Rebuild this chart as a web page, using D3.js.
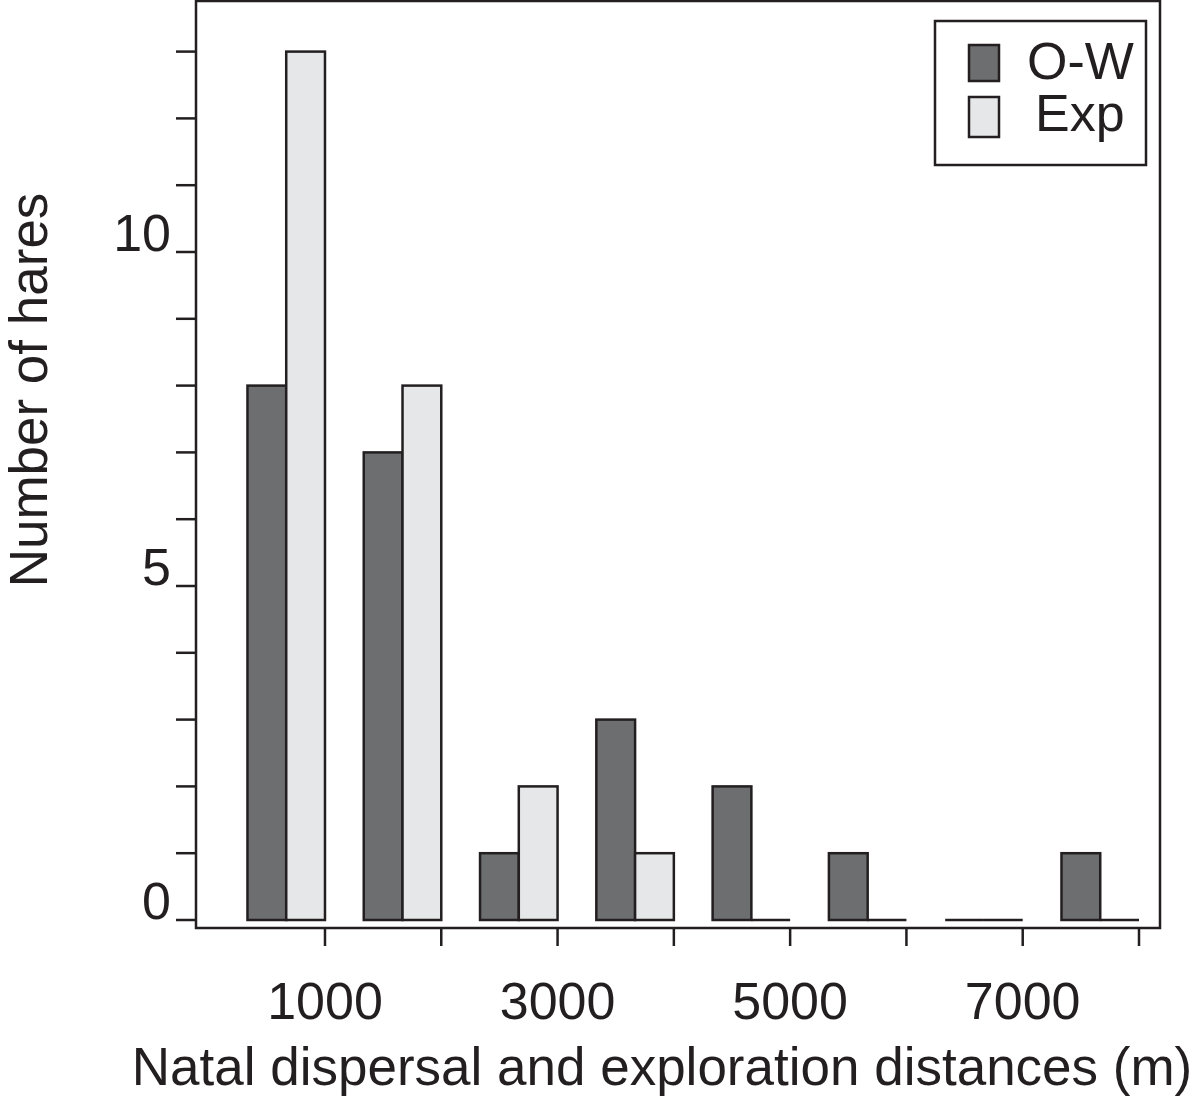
<!DOCTYPE html>
<html>
<head>
<meta charset="utf-8">
<script src="https://cdn.jsdelivr.net/npm/d3@7"></script>
<style>
  body { margin: 0; background: #fff; }
  svg { display: block; font-family: "Liberation Sans", Arial, sans-serif; }
</style>
</head>
<body>
<div id="chart"></div>
<script>
// bins of 1000 m, labelled by their upper edge
const binStarts = [0, 1000, 2000, 3000, 4000, 5000, 6000, 7000];
const owCounts = [8, 7, 1, 3, 2, 1, 0, 1];
const expCounts = [13, 8, 2, 1, 0, 0, 0, 0];
const xTicks = [1000, 2000, 3000, 4000, 5000, 6000, 7000, 8000];
const xTickLabels = ["1000", "", "3000", "", "5000", "", "7000", ""];
const yTicks = d3.range(0, 14);
const yTickLabels = { 0: "0", 5: "5", 10: "10" };
const series = [
  { name: "O-W", values: owCounts, color: "#6d6e70" },
  { name: "Exp", values: expCounts, color: "#e6e7e8" },
];

const width = 1200, height = 1097;
const frame = { left: 196, top: 1, right: 1160, bottom: 928 };
const ink = "#231f20";

const svg = d3.select("#chart").append("svg")
  .attr("width", width)
  .attr("height", height);

const x = d3.scaleLinear().domain([0, 8000]).range([208.7, 1139]);
const y = d3.scaleLinear().domain([0, 13]).range([920, 51.6]);

// bars: each pair fills the last two thirds of its bin
const barW = 1000 / 3;
series.forEach((s, si) => {
  const g = svg.append("g");
  binStarts.forEach((b, i) => {
    const v = s.values[i];
    const x0 = x(b + barW * (si + 1));
    const x1 = x(b + barW * (si + 2));
    if (v > 0) {
      g.append("rect")
        .attr("x", x0).attr("y", y(v))
        .attr("width", x1 - x0).attr("height", y(0) - y(v))
        .attr("fill", s.color)
        .attr("stroke", ink).attr("stroke-width", 2.5);
    } else {
      g.append("line")
        .attr("x1", x0).attr("x2", x1)
        .attr("y1", y(0)).attr("y2", y(0))
        .attr("stroke", ink).attr("stroke-width", 2.5);
    }
  });
});

// frame
svg.append("rect")
  .attr("x", frame.left).attr("y", frame.top)
  .attr("width", frame.right - frame.left).attr("height", frame.bottom - frame.top)
  .attr("fill", "none").attr("stroke", ink).attr("stroke-width", 2.5);

// y ticks
svg.append("g").selectAll("line").data(yTicks).join("line")
  .attr("x1", 176).attr("x2", frame.left)
  .attr("y1", d => y(d)).attr("y2", d => y(d))
  .attr("stroke", ink).attr("stroke-width", 2.5);
svg.append("g").selectAll("text").data(yTicks.filter(d => yTickLabels[d])).join("text")
  .attr("x", 171).attr("y", d => y(d) - 1)
  .attr("text-anchor", "end")
  .attr("font-size", 52).attr("fill", ink)
  .text(d => yTickLabels[d]);

// x ticks
svg.append("g").selectAll("line").data(xTicks).join("line")
  .attr("x1", d => x(d)).attr("x2", d => x(d))
  .attr("y1", frame.bottom).attr("y2", 946)
  .attr("stroke", ink).attr("stroke-width", 2.5);
svg.append("g").selectAll("text").data(xTicks).join("text")
  .attr("x", d => x(d)).attr("y", 1019)
  .attr("text-anchor", "middle")
  .attr("font-size", 52).attr("fill", ink)
  .text((d, i) => xTickLabels[i]);

// axis titles
svg.append("text")
  .attr("x", 662).attr("y", 1085)
  .attr("text-anchor", "middle")
  .attr("font-size", 53).attr("fill", ink)
  .text("Natal dispersal and exploration distances (m)");
svg.append("text")
  .attr("transform", "translate(47,390) rotate(-90)")
  .attr("text-anchor", "middle")
  .attr("font-size", 53).attr("fill", ink)
  .text("Number of hares");

// legend
const legend = svg.append("g");
legend.append("rect")
  .attr("x", 935).attr("y", 21).attr("width", 211).attr("height", 144)
  .attr("fill", "#fff").attr("stroke", ink).attr("stroke-width", 2.5);
series.forEach((s, i) => {
  legend.append("rect")
    .attr("x", 969).attr("y", 45 + i * 52).attr("width", 30).attr("height", i ? 40 : 36)
    .attr("fill", s.color).attr("stroke", ink).attr("stroke-width", 2.5);
  legend.append("text")
    .attr("x", i ? 1035 : 1027).attr("y", 79 + i * 52)
    .attr("font-size", 52).attr("fill", ink)
    .text(s.name);
});
</script>
</body>
</html>
